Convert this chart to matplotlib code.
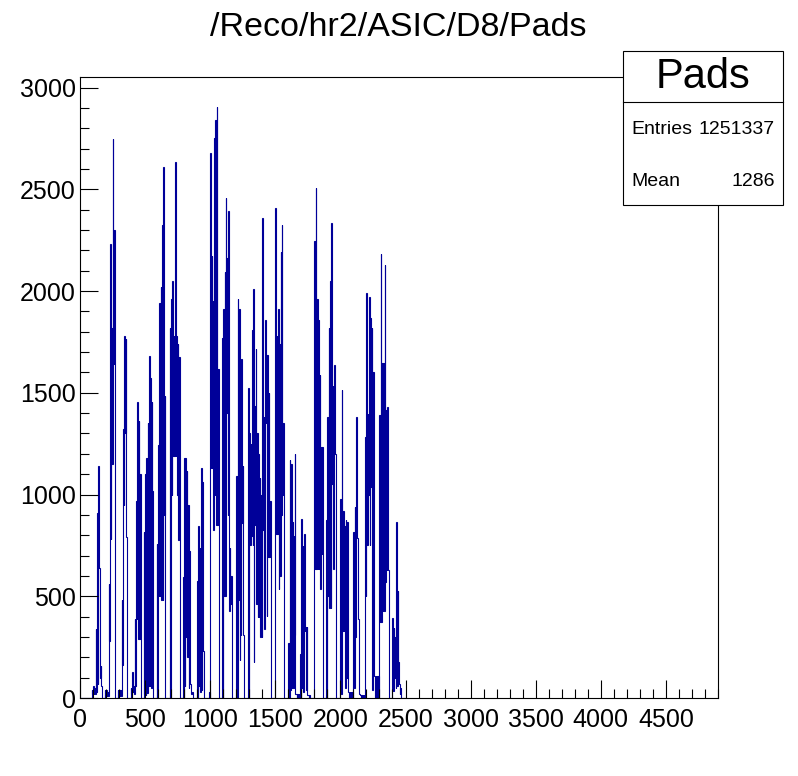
import numpy as np
import matplotlib
matplotlib.use("Agg")
import matplotlib.pyplot as plt
from matplotlib.patches import Rectangle
from matplotlib.lines import Line2D
from matplotlib.ticker import MultipleLocator

plt.rcParams["font.family"] = ["Liberation Sans", "DejaVu Sans"]

title = "/Reco/hr2/ASIC/D8/Pads"
stat_name = "Pads"
entries = "1251337"
mean = "1286"

bin_width = 10  # pad units per read-off bin
# upper / lower envelope of the counts in each 10-pad bin
counts_hi = [
    0, 0, 0, 0, 0, 0, 0, 0, 0, 40,
    60, 50, 340, 910, 1140, 640, 157, 0, 0, 40,
    40, 30, 560, 2230, 1820, 2745, 2300, 0, 0, 40,
    40, 40, 480, 1320, 1780, 1765, 0, 0, 0, 50,
    128, 60, 390, 970, 1455, 1360, 1102, 0, 0, 815,
    1102, 1178, 1350, 1679, 1574, 1455, 0, 0, 0, 758,
    1245, 1942, 2019, 2324, 2611, 1484, 0, 0, 0, 1818,
    1962, 2048, 1780, 2634, 1780, 1742, 1675, 0, 0, 596,
    1178, 1178, 1115, 949, 720, 70, 30, 0, 0, 0,
    577, 844, 739, 1131, 1064, 40, 0, 0, 0, 30,
    2678, 2172, 1952, 2754, 2840, 2907, 1618, 0, 0, 1771,
    1914, 2095, 2458, 2162, 2391, 739, 600, 0, 0, 0,
    1093, 1962, 1914, 1446, 1666, 1140, 0, 0, 0, 1522,
    1303, 1250, 1809, 2009, 1436, 1713, 1300, 1200, 1083, 1000,
    2357, 1379, 1857, 1685, 1685, 1500, 968, 0, 0, 0,
    2407, 1780, 1914, 1742, 2191, 2324, 1350, 0, 0, 0,
    271, 1169, 1150, 863, 796, 1198, 20, 20, 20, 214,
    882, 749, 806, 348, 348, 15, 15, 0, 0, 0,
    2248, 2506, 1962, 1857, 1589, 1236, 1236, 0, 0, 873,
    1379, 1818, 2048, 2334, 1532, 1637, 1198, 0, 0, 0,
    978, 1513, 921, 844, 873, 863, 30, 30, 30, 30,
    816, 940, 1379, 787, 338, 15, 15, 15, 15, 1284,
    1990, 1398, 1971, 1866, 1818, 1602, 108, 108, 108, 108,
    1392, 2181, 1647, 1647, 2128, 1416, 1431, 0, 0, 0,
    392, 343, 300, 863, 524, 71, 50, 0, 0, 0,
]
counts_lo = [
    0, 0, 0, 0, 0, 0, 0, 0, 0, 20,
    20, 20, 30, 70, 640, 100, 60, 0, 0, 0,
    10, 10, 280, 780, 1150, 1640, 0, 0, 0, 0,
    10, 10, 160, 950, 1300, 790, 0, 0, 0, 20,
    30, 20, 60, 390, 290, 290, 0, 0, 0, 20,
    15, 25, 60, 60, 50, 1016, 0, 0, 0, 0,
    500, 500, 481, 480, 900, 0, 0, 0, 0, 0,
    1000, 1190, 1188, 1190, 1000, 777, 0, 0, 0, 0,
    60, 300, 200, 50, 70, 20, 0, 0, 0, 0,
    0, 60, 30, 40, 233, 0, 0, 0, 0, 0,
    1131, 1131, 825, 1000, 850, 850, 0, 0, 0, 0,
    500, 500, 1400, 900, 430, 460, 0, 0, 0, 0,
    0, 480, 185, 310, 860, 310, 0, 0, 0, 0,
    750, 795, 750, 175, 850, 460, 400, 400, 300, 300,
    825, 338, 1350, 405, 691, 691, 0, 0, 0, 0,
    806, 806, 535, 600, 900, 1000, 0, 0, 0, 0,
    0, 40, 50, 50, 310, 20, 0, 0, 0, 0,
    50, 30, 330, 40, 15, 0, 0, 0, 0, 0,
    634, 634, 634, 634, 538, 710, 0, 0, 0, 0,
    500, 440, 440, 1054, 634, 1198, 0, 0, 0, 0,
    20, 330, 330, 50, 100, 30, 0, 0, 0, 0,
    50, 300, 787, 390, 20, 0, 0, 0, 0, 500,
    750, 1000, 750, 1035, 40, 300, 0, 0, 0, 0,
    373, 373, 430, 430, 570, 630, 630, 0, 0, 0,
    32, 100, 50, 60, 176, 20, 0, 0, 0, 0,
]
x_max = 4900
y_max = 3052

# each read-off bin is drawn as two half bins (upper then lower value)
values = np.column_stack([counts_hi, counts_lo]).ravel()
edges = np.arange(len(values) + 1) * (bin_width / 2)

W, H = 798, 776
fig = plt.figure(figsize=(W / 100, H / 100), dpi=100)
ax = fig.add_axes([80 / W, 1 - 698 / H, 638 / W, 621 / H])

ax.stairs(values, edges, color="#000099", linewidth=0.8)

ax.set_xlim(0, x_max)
ax.set_ylim(0, y_max)
ax.xaxis.set_major_locator(MultipleLocator(500))
ax.xaxis.set_minor_locator(MultipleLocator(100))
ax.yaxis.set_major_locator(MultipleLocator(500))
ax.yaxis.set_minor_locator(MultipleLocator(100))
ax.tick_params(which="both", direction="in", top=False, right=False,
               width=0.8, labelsize=18)
ax.tick_params(which="major", length=13)
ax.tick_params(which="minor", length=6.5)
ax.tick_params(axis="x", pad=7)
ax.tick_params(axis="y", pad=3)
for sp in ax.spines.values():
    sp.set_linewidth(0.8)

fig.text(398 / W, 1 - 28 / H, title, ha="center", va="center", fontsize=24.5)

# stats box
bx0, bx1 = 622.7 / W, 782.7 / W
by0, by1 = 1 - 205 / H, 1 - 50.7 / H
fig.patches.append(Rectangle((bx0, by0), bx1 - bx0, by1 - by0, transform=fig.transFigure,
                             facecolor="white", edgecolor="black", linewidth=0.8, zorder=5))
fig.lines.append(Line2D([bx0, bx1], [1 - 101.7 / H] * 2, transform=fig.transFigure,
                        color="black", linewidth=0.8, zorder=6))
fig.text((bx0 + bx1) / 2, 1 - 77 / H, stat_name, ha="center", va="center", fontsize=30, zorder=7)
fig.text(631.7 / W, 1 - 129 / H, "Entries", ha="left", va="center", fontsize=14, zorder=7)
fig.text(775 / W, 1 - 129 / H, entries, ha="right", va="center", fontsize=14, zorder=7)
fig.text(631.7 / W, 1 - 181 / H, "Mean", ha="left", va="center", fontsize=14, zorder=7)
fig.text(775 / W, 1 - 181 / H, mean, ha="right", va="center", fontsize=14, zorder=7)

fig.savefig("out.png", dpi=100)
